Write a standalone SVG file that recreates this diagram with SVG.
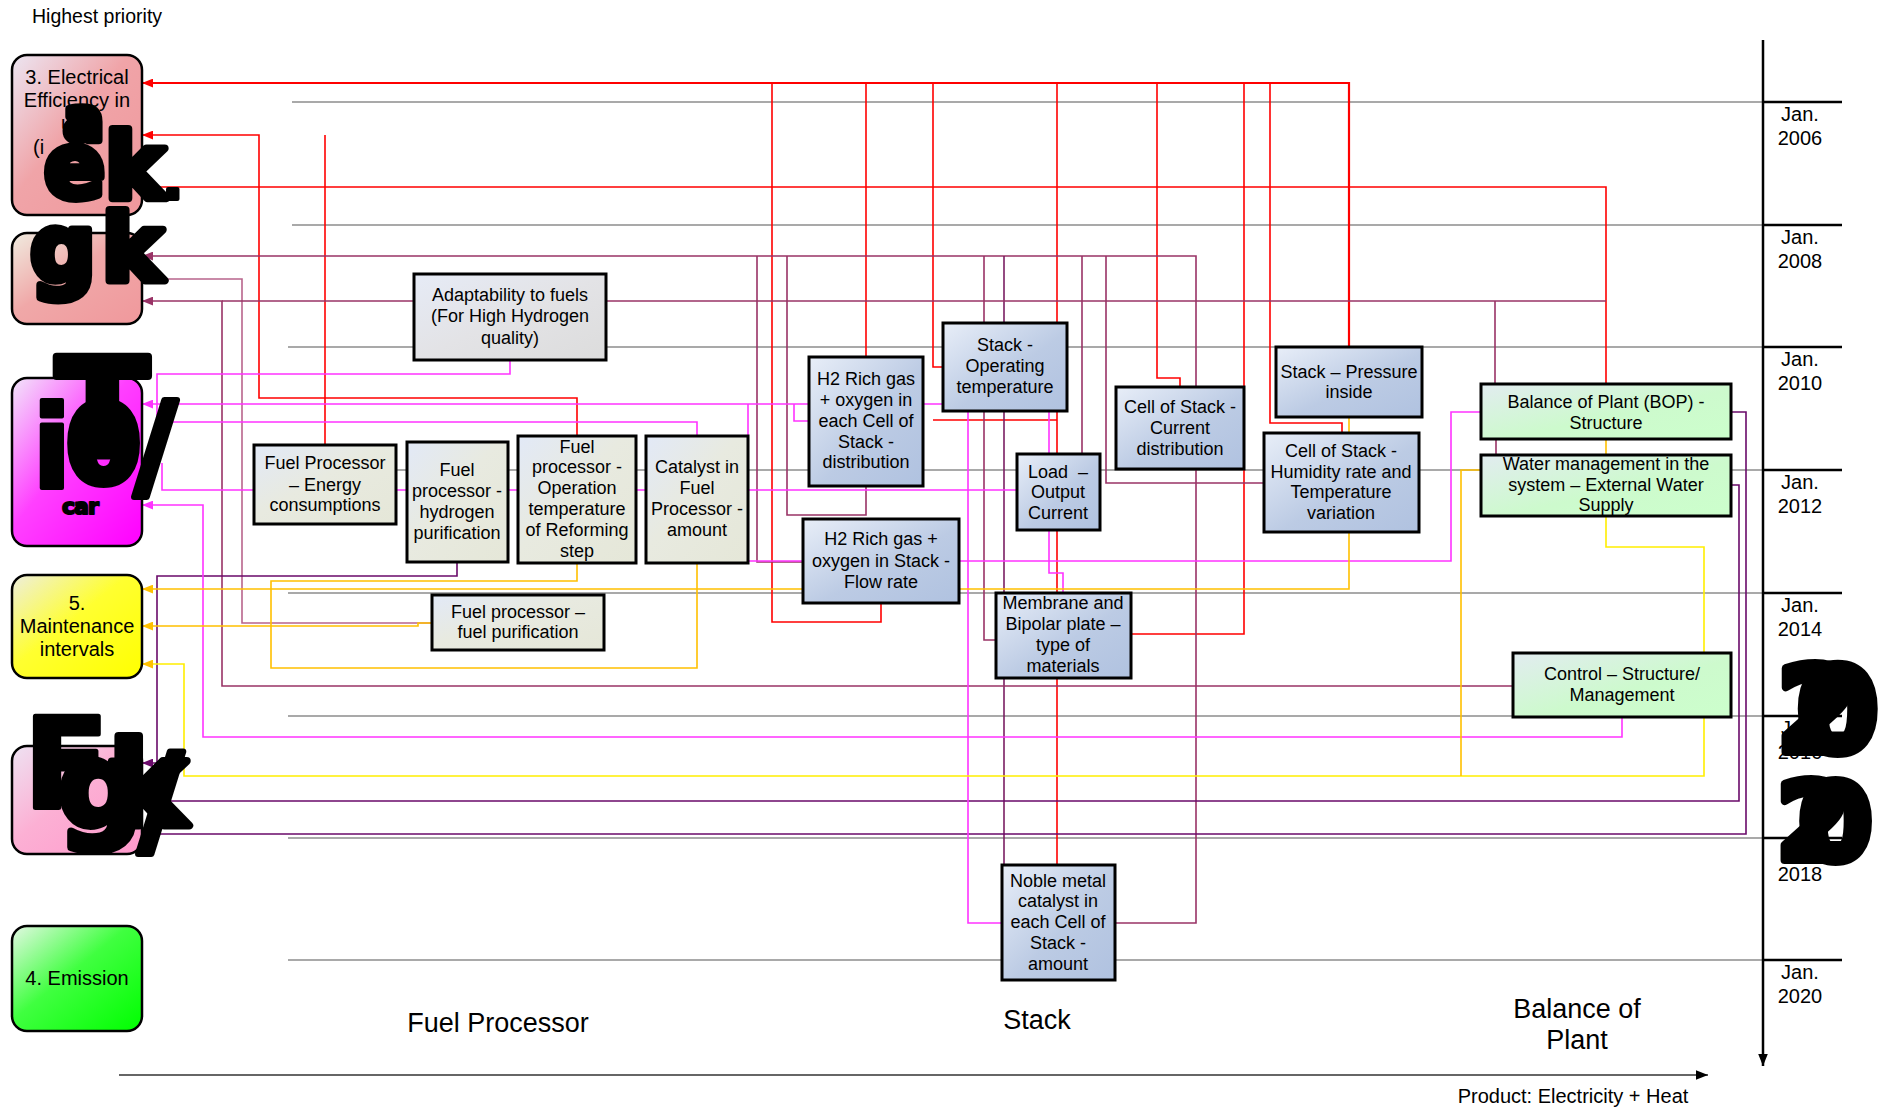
<svg xmlns="http://www.w3.org/2000/svg" width="1881" height="1110" viewBox="0 0 1881 1110">
<defs>
  <linearGradient id="gFuel" x1="0" y1="0" x2="1" y2="1">
    <stop offset="0" stop-color="#e2e9f7"/><stop offset="0.45" stop-color="#e8eae0"/><stop offset="1" stop-color="#e5e7d8"/>
  </linearGradient>
  <linearGradient id="gAdapt" x1="0" y1="0" x2="1" y2="1">
    <stop offset="0" stop-color="#e6ebf6"/><stop offset="0.5" stop-color="#e3e3e6"/><stop offset="1" stop-color="#dcdcdc"/>
  </linearGradient>
  <linearGradient id="gStack" x1="0" y1="0" x2="1" y2="1">
    <stop offset="0" stop-color="#e8eef8"/><stop offset="0.55" stop-color="#bccbe4"/><stop offset="1" stop-color="#b0c2e0"/>
  </linearGradient>
  <linearGradient id="gBop" x1="0" y1="0" x2="1" y2="1">
    <stop offset="0" stop-color="#e2ecf0"/><stop offset="0.55" stop-color="#cdfacd"/><stop offset="1" stop-color="#ccffcc"/>
  </linearGradient>
  <linearGradient id="gP1" x1="0" y1="0" x2="1" y2="1">
    <stop offset="0" stop-color="#ece6f2"/><stop offset="0.45" stop-color="#f0a4a8"/><stop offset="1" stop-color="#f0989c"/>
  </linearGradient>
  <linearGradient id="gP2" x1="0" y1="0" x2="1" y2="1">
    <stop offset="0" stop-color="#f0ece0"/><stop offset="0.45" stop-color="#f0a8a8"/><stop offset="1" stop-color="#f0989c"/>
  </linearGradient>
  <linearGradient id="gP3" x1="0" y1="0" x2="1" y2="1">
    <stop offset="0" stop-color="#f2e6fa"/><stop offset="0.45" stop-color="#ff40ff"/><stop offset="1" stop-color="#ff00ff"/>
  </linearGradient>
  <linearGradient id="gP4" x1="0" y1="0" x2="1" y2="1">
    <stop offset="0" stop-color="#eeeede"/><stop offset="0.45" stop-color="#ffff30"/><stop offset="1" stop-color="#ffff00"/>
  </linearGradient>
  <linearGradient id="gP5" x1="0" y1="0" x2="1" y2="1">
    <stop offset="0" stop-color="#eee2f2"/><stop offset="0.45" stop-color="#fcb0d4"/><stop offset="1" stop-color="#ff99cc"/>
  </linearGradient>
  <linearGradient id="gP6" x1="0" y1="0" x2="1" y2="1">
    <stop offset="0" stop-color="#e4f8e4"/><stop offset="0.45" stop-color="#40ff40"/><stop offset="1" stop-color="#00ff00"/>
  </linearGradient>
  <marker id="aRed" viewBox="0 0 10 8" refX="10" refY="4" markerWidth="11" markerHeight="9" markerUnits="userSpaceOnUse" orient="auto"><path d="M0,0 L10,4 L0,8 z" fill="#ff0000"/></marker>
  <marker id="aMau" viewBox="0 0 10 8" refX="10" refY="4" markerWidth="11" markerHeight="9" markerUnits="userSpaceOnUse" orient="auto"><path d="M0,0 L10,4 L0,8 z" fill="#993366"/></marker>
  <marker id="aRos" viewBox="0 0 10 8" refX="10" refY="4" markerWidth="11" markerHeight="9" markerUnits="userSpaceOnUse" orient="auto"><path d="M0,0 L10,4 L0,8 z" fill="#b8648c"/></marker>
  <marker id="aPur" viewBox="0 0 10 8" refX="10" refY="4" markerWidth="11" markerHeight="9" markerUnits="userSpaceOnUse" orient="auto"><path d="M0,0 L10,4 L0,8 z" fill="#6a0a6a"/></marker>
  <marker id="aMag" viewBox="0 0 10 8" refX="10" refY="4" markerWidth="11" markerHeight="9" markerUnits="userSpaceOnUse" orient="auto"><path d="M0,0 L10,4 L0,8 z" fill="#ff33ff"/></marker>
  <marker id="aYel" viewBox="0 0 10 8" refX="10" refY="4" markerWidth="11" markerHeight="9" markerUnits="userSpaceOnUse" orient="auto"><path d="M0,0 L10,4 L0,8 z" fill="#ffc000"/></marker>
  <marker id="aBlk" viewBox="0 0 10 8" refX="10" refY="4" markerWidth="12" markerHeight="10" markerUnits="userSpaceOnUse" orient="auto"><path d="M0,0 L10,4 L0,8 z" fill="#000"/></marker>
</defs>
<style>
  .c{fill:none;stroke-width:1.6}
  .red{stroke:#ff0000}
  .mau{stroke:#993366}
  .ros{stroke:#b8648c}
  .pur{stroke:#6a0a6a}
  .mag{stroke:#ff33ff}
  .yel{stroke:#ffc000}
  .ylw{stroke:#ffee00}
  .grid{stroke:#8c8c8c;stroke-width:1.5}
  .tick{stroke:#000;stroke-width:2.5}
  .node rect{stroke:#000;stroke-width:3}
  .pri rect{stroke:#000;stroke-width:2.5}
  text{font-family:"Liberation Sans",Arial,sans-serif;fill:#000}
  .nt{font-size:18px;text-anchor:middle}
  .pt{font-size:20px;text-anchor:middle}
  .yr{font-size:20px;text-anchor:middle}
  .ax{font-size:27px;text-anchor:middle}
  .blob{font-family:"DejaVu Sans",sans-serif;font-weight:bold;fill:#000;stroke:#000;stroke-width:8;stroke-linejoin:round}
</style>
<rect width="1881" height="1110" fill="#fff"/>

<!-- time grid -->
<g id="timeline">
  <line class="grid" x1="292" y1="102" x2="1763" y2="102"/>
  <line class="grid" x1="292" y1="225" x2="1763" y2="225"/>
  <line class="grid" x1="288" y1="347" x2="1763" y2="347"/>
  <line class="grid" x1="288" y1="470" x2="1763" y2="470"/>
  <line class="grid" x1="288" y1="593" x2="1763" y2="593"/>
  <line class="grid" x1="288" y1="716" x2="1763" y2="716"/>
  <line class="grid" x1="288" y1="838" x2="1763" y2="838"/>
  <line class="grid" x1="288" y1="960" x2="1763" y2="960"/>
  <line class="tick" x1="1763" y1="102" x2="1842" y2="102"/>
  <line class="tick" x1="1763" y1="225" x2="1842" y2="225"/>
  <line class="tick" x1="1763" y1="347" x2="1842" y2="347"/>
  <line class="tick" x1="1763" y1="470" x2="1842" y2="470"/>
  <line class="tick" x1="1763" y1="593" x2="1842" y2="593"/>
  <line class="tick" x1="1763" y1="716" x2="1842" y2="716"/>
  <line class="tick" x1="1763" y1="838" x2="1842" y2="838"/>
  <line class="tick" x1="1763" y1="960" x2="1842" y2="960"/>
  <line x1="1763" y1="40" x2="1763" y2="1066" stroke="#000" stroke-width="2.5" marker-end="url(#aBlk)"/>
  <text class="yr" x="1800" y="121">Jan.</text><text class="yr" x="1800" y="145">2006</text>
  <text class="yr" x="1800" y="244">Jan.</text><text class="yr" x="1800" y="268">2008</text>
  <text class="yr" x="1800" y="366">Jan.</text><text class="yr" x="1800" y="390">2010</text>
  <text class="yr" x="1800" y="489">Jan.</text><text class="yr" x="1800" y="513">2012</text>
  <text class="yr" x="1800" y="612">Jan.</text><text class="yr" x="1800" y="636">2014</text>
  <text class="yr" x="1800" y="735">Jan.</text><text class="yr" x="1800" y="759">2016</text>
  <text class="yr" x="1800" y="857">Jan.</text><text class="yr" x="1800" y="881">2018</text>
  <text class="yr" x="1800" y="979">Jan.</text><text class="yr" x="1800" y="1003">2020</text>
</g>

<!-- connectors -->
<g id="connectors" class="c">
  <!-- red: electrical efficiency -->
  <polyline class="red" style="stroke-width:2.2" points="1349,347 1349,83 142,83" marker-end="url(#aRed)"/>
  <polyline class="red" points="881,603 881,622 772,622 772,83"/>
  <polyline class="red" points="866,357 866,83"/>
  <polyline class="red" points="943,367 933,367 933,83"/>
  <polyline class="red" points="933,420 1057,420"/>
  <polyline class="red" points="1057,593 1057,83"/>
  <polyline class="red" points="1180,387 1180,378 1157,378 1157,83"/>
  <polyline class="red" points="1131,634 1244,634 1244,83"/>
  <polyline class="red" points="1342,433 1342,423 1270,423 1270,83"/>
  <polyline class="red" points="577,436 577,398 259,398 259,135 142,135" marker-end="url(#aRed)"/>
  <polyline class="red" points="325,445 325,135"/>
  <polyline class="red" points="1606,384 1606,187 142,187" marker-end="url(#aRed)"/>
  <polyline class="red" points="1057,865 1057,678"/>
  <!-- mauve -->
  <polyline class="mau" points="1115,923 1196,923 1196,256 142,256" marker-end="url(#aMau)"/>
  <polyline class="mau" points="866,486 866,515 787,515 787,256"/>
  <polyline class="mau" points="803,562 757,562 757,256"/>
  <polyline class="mau" points="996,640 984,640 984,256"/>
  <polyline class="mau" style="stroke:#7a1e62" points="1004,865 1004,256"/>
  <polyline class="mau" points="1082,454 1082,256"/>
  <polyline class="mau" points="1264,483 1106,483 1106,256"/>
  <polyline class="ros" points="433,623 242,623 242,279 142,279" marker-end="url(#aRos)"/>
  <polyline class="mau" points="1513,686 222,686 222,301 142,301" marker-end="url(#aMau)"/>
  <polyline class="mau" points="1606,301 222,301"/>
  <polyline class="mau" points="1495,384 1495,301"/>
  <polyline class="mau" points="1496,439 1496,455"/>
  <!-- purple -->
  <polyline class="pur" points="457,562 457,576 157,576 157,763 142,763" marker-end="url(#aPur)"/>
  <polyline class="pur" points="1731,412 1746,412 1746,834 142,834" marker-end="url(#aPur)"/>
  <polyline class="pur" points="1731,485 1739,485 1739,801 142,801" marker-end="url(#aPur)"/>
  <!-- magenta -->
  <polyline class="mag" points="510,360 510,374 157,374 157,463 142,463" marker-end="url(#aMag)"/>
  <polyline class="mag" points="697,436 697,422 157,422"/>
  <polyline class="mag" points="1017,490 162,490 162,463"/>
  <polyline class="mag" points="943,404 142,404" marker-end="url(#aMag)"/>
  <polyline class="mag" points="1481,412 1451,412 1451,561 748,561 748,404"/>
  <polyline class="mag" points="809,421 794,421 794,404"/>
  <polyline class="mag" points="968,411 968,923 1002,923"/>
  <polyline class="mag" points="1049,411 1049,573 1063,573 1063,593"/>
  <polyline class="mag" points="1622,717 1622,737 203,737 203,505 142,505" marker-end="url(#aMag)"/>
  <!-- yellow -->
  <polyline class="yel" points="1349,532 1349,589 142,589" marker-end="url(#aYel)"/>
  <polyline class="yel" points="1349,417 1349,433"/>
  <polyline class="yel" points="697,563 697,668 271,668 271,581 577,581 577,563"/>
  <polyline class="ylw" points="1606,516 1606,547 1704,547 1704,776 184,776 184,664 142,664" marker-end="url(#aYel)"/>
  <polyline class="yel" points="1481,470 1461,470 1461,776"/>
  <polyline class="yel" points="433,623 418,623 418,626 142,626" marker-end="url(#aYel)"/>
  <polyline class="yel" points="1606,439 1606,455"/>
</g>

<!-- fuel processor nodes -->
<g id="n-adapt" class="node"><rect x="414" y="274" width="192" height="86" fill="url(#gAdapt)"/>
  <text class="nt" x="510" y="301">Adaptability to fuels</text><text class="nt" x="510" y="322">(For High Hydrogen</text><text class="nt" x="510" y="344">quality)</text></g>
<g id="n-fp-energy" class="node"><rect x="254" y="445" width="142" height="79" fill="url(#gFuel)"/>
  <text class="nt" x="325" y="469">Fuel Processor</text><text class="nt" x="325" y="491">– Energy</text><text class="nt" x="325" y="511">consumptions</text></g>
<g id="n-fp-h2purif" class="node"><rect x="407" y="442" width="101" height="120" fill="url(#gFuel)"/>
  <text class="nt" x="457" y="476">Fuel</text><text class="nt" x="457" y="497">processor -</text><text class="nt" x="457" y="518">hydrogen</text><text class="nt" x="457" y="539">purification</text></g>
<g id="n-fp-optemp" class="node"><rect x="518" y="436" width="118" height="127" fill="url(#gFuel)"/>
  <text class="nt" x="577" y="453">Fuel</text><text class="nt" x="577" y="473">processor -</text><text class="nt" x="577" y="494">Operation</text><text class="nt" x="577" y="515">temperature</text><text class="nt" x="577" y="536">of Reforming</text><text class="nt" x="577" y="557">step</text></g>
<g id="n-fp-catalyst" class="node"><rect x="646" y="436" width="102" height="127" fill="url(#gFuel)"/>
  <text class="nt" x="697" y="473">Catalyst in</text><text class="nt" x="697" y="494">Fuel</text><text class="nt" x="697" y="515">Processor -</text><text class="nt" x="697" y="536">amount</text></g>
<g id="n-fp-fuelpurif" class="node"><rect x="432" y="595" width="172" height="55" fill="url(#gFuel)"/>
  <text class="nt" x="518" y="618">Fuel processor –</text><text class="nt" x="518" y="638">fuel purification</text></g>

<!-- stack nodes -->
<g id="n-h2-cell" class="node"><rect x="809" y="357" width="114" height="129" fill="url(#gStack)"/>
  <text class="nt" x="866" y="385">H2 Rich gas</text><text class="nt" x="866" y="406">+ oxygen in</text><text class="nt" x="866" y="427">each Cell of</text><text class="nt" x="866" y="448">Stack -</text><text class="nt" x="866" y="468">distribution</text></g>
<g id="n-stack-temp" class="node"><rect x="943" y="323" width="124" height="88" fill="url(#gStack)"/>
  <text class="nt" x="1005" y="351">Stack -</text><text class="nt" x="1005" y="372">Operating</text><text class="nt" x="1005" y="393">temperature</text></g>
<g id="n-cell-current" class="node"><rect x="1116" y="387" width="128" height="82" fill="url(#gStack)"/>
  <text class="nt" x="1180" y="413">Cell of Stack -</text><text class="nt" x="1180" y="434">Current</text><text class="nt" x="1180" y="455">distribution</text></g>
<g id="n-load" class="node"><rect x="1017" y="454" width="83" height="76" fill="url(#gStack)"/>
  <text class="nt" x="1058" y="478">Load&#160; –</text><text class="nt" x="1058" y="498">Output</text><text class="nt" x="1058" y="519">Current</text></g>
<g id="n-h2-flow" class="node"><rect x="803" y="519" width="156" height="84" fill="url(#gStack)"/>
  <text class="nt" x="881" y="545">H2 Rich gas +</text><text class="nt" x="881" y="567">oxygen in Stack -</text><text class="nt" x="881" y="588">Flow rate</text></g>
<g id="n-membrane" class="node"><rect x="996" y="593" width="135" height="85" fill="url(#gStack)"/>
  <text class="nt" x="1063" y="609">Membrane and</text><text class="nt" x="1063" y="630">Bipolar plate –</text><text class="nt" x="1063" y="651">type of</text><text class="nt" x="1063" y="672">materials</text></g>
<g id="n-noble" class="node"><rect x="1002" y="865" width="113" height="115" fill="url(#gStack)"/>
  <text class="nt" x="1058" y="887">Noble metal</text><text class="nt" x="1058" y="907">catalyst in</text><text class="nt" x="1058" y="928">each Cell of</text><text class="nt" x="1058" y="949">Stack -</text><text class="nt" x="1058" y="970">amount</text></g>
<g id="n-pressure" class="node"><rect x="1276" y="347" width="146" height="70" fill="url(#gStack)"/>
  <text class="nt" x="1349" y="378">Stack – Pressure</text><text class="nt" x="1349" y="398">inside</text></g>
<g id="n-humidity" class="node"><rect x="1264" y="433" width="155" height="99" fill="url(#gStack)"/>
  <text class="nt" x="1341" y="457">Cell of Stack -</text><text class="nt" x="1341" y="478">Humidity rate and</text><text class="nt" x="1341" y="498">Temperature</text><text class="nt" x="1341" y="519">variation</text></g>

<!-- balance of plant nodes -->
<g id="n-bop" class="node"><rect x="1481" y="384" width="250" height="55" fill="url(#gBop)"/>
  <text class="nt" x="1606" y="408">Balance of Plant (BOP) -</text><text class="nt" x="1606" y="429">Structure</text></g>
<g id="n-water" class="node"><rect x="1481" y="455" width="250" height="61" fill="url(#gBop)"/>
  <text class="nt" x="1606" y="470">Water management in the</text><text class="nt" x="1606" y="491">system – External Water</text><text class="nt" x="1606" y="511">Supply</text></g>
<g id="n-control" class="node"><rect x="1513" y="653" width="218" height="64" fill="url(#gBop)"/>
  <text class="nt" x="1622" y="680">Control – Structure/</text><text class="nt" x="1622" y="701">Management</text></g>

<!-- priority targets -->
<g id="p-electrical" class="pri"><rect x="12" y="55" width="130" height="160" rx="15" fill="url(#gP1)"/>
  <text class="pt" x="77" y="84">3. Electrical</text><text class="pt" x="77" y="107">Efficiency in</text><text class="pt" x="77" y="130">use</text><text x="33" y="154" style="font-size:20px">(i</text></g>
<g id="p-second" class="pri"><rect x="12" y="233" width="130" height="91" rx="15" fill="url(#gP2)"/></g>
<g id="p-magenta" class="pri"><rect x="12" y="378" width="130" height="168" rx="15" fill="url(#gP3)"/></g>
<g id="p-maintenance" class="pri"><rect x="12" y="575" width="130" height="103" rx="15" fill="url(#gP4)"/>
  <text class="pt" x="77" y="610">5.</text><text class="pt" x="77" y="633">Maintenance</text><text class="pt" x="77" y="656">intervals</text></g>
<g id="p-pink" class="pri"><rect x="12" y="746" width="130" height="108" rx="15" fill="url(#gP5)"/></g>
<g id="p-emission" class="pri"><rect x="12" y="926" width="130" height="105" rx="15" fill="url(#gP6)"/>
  <text class="pt" x="77" y="985">4. Emission</text></g>

<!-- overprinted heavy lettering -->
<g id="overprint">
  <text class="blob" x="64" y="140" style="font-size:58px">a</text>
  <text class="blob" x="44" y="198" style="font-size:90px">ek</text>
  <text class="blob" x="142" y="199" style="font-size:54px;stroke-width:4">..</text>
  <text class="blob" x="30" y="281" style="font-size:92px;letter-spacing:6px">gk</text>
  <text class="blob" x="56" y="456" style="font-size:136px">T</text>
  <text class="blob" x="32" y="488" style="font-size:116px;stroke-width:4">i</text>
  <text class="blob" x="66" y="482" style="font-size:108px">0</text>
  <text class="blob" x="134" y="486" style="font-size:118px;stroke-width:6">/</text>
  <text class="blob" x="62" y="514" style="font-size:22px;letter-spacing:-1px;stroke-width:2">car</text>
  <text class="blob" x="24" y="808" style="font-size:124px;stroke-width:5">F</text>
  <text class="blob" x="58" y="826" style="font-size:118px;letter-spacing:-34px">gk</text>
  <text class="blob" x="138" y="842" style="font-size:124px;stroke-width:6">/</text>
  <text class="blob" x="1776" y="752" style="font-size:120px">2</text>
  <text class="blob" x="1796" y="752" style="font-size:120px">0</text>
  <text class="blob" x="1776" y="860" style="font-size:108px">2</text>
  <text class="blob" x="1798" y="860" style="font-size:108px">0</text>
</g>

<!-- axis labels -->
<g id="labels">
  <text x="32" y="23" style="font-size:19.5px">Highest priority</text>
  <text class="ax" x="498" y="1032">Fuel Processor</text>
  <text class="ax" x="1037" y="1029">Stack</text>
  <text class="ax" x="1577" y="1018">Balance of</text>
  <text class="ax" x="1577" y="1049">Plant</text>
  <line x1="119" y1="1075" x2="1708" y2="1075" stroke="#333" stroke-width="1.6" marker-end="url(#aBlk)"/>
  <text x="1573" y="1103" style="font-size:20px;text-anchor:middle">Product: Electricity + Heat</text>
</g>
</svg>
